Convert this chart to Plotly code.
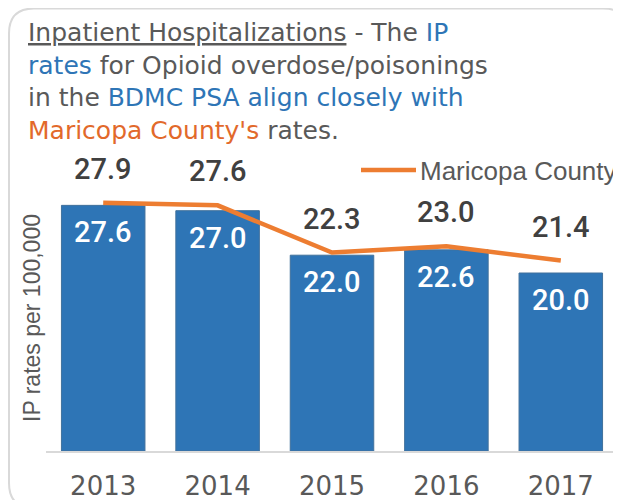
import plotly.graph_objects as go

years = ["2013", "2014", "2015", "2016", "2017"]
bdmc_psa = [27.6, 27.0, 22.0, 22.6, 20.0]
maricopa = [27.9, 27.6, 22.3, 23.0, 21.4]
y_title = "IP rates per 100,000"
legend_name = "Maricopa County"

# page body has an 8px default margin: work in window pixels, offset by OFF
OFF = 8
W, H = 621 - OFF, 500 - OFF
ML, MR, MT, MB = 38, 3, 176, 49
PW, PH = W - ML - MR, H - MT - MB

def px(xw):
    return (xw - OFF - ML) / PW

def py(yw):
    return (H - MB - (yw - OFF)) / PH

BLUE = "#2E75B6"
ORANGE = "#ED7D31"
GREY = "#595959"
DARK = "#404040"
ARIAL = "Liberation Sans, Arial, sans-serif"
ROBOTO = "Roboto, Liberation Sans, Arial, sans-serif"
DEJAVU = "DejaVu Sans, sans-serif"

fig = go.Figure()
fig.add_trace(go.Bar(
    x=years, y=bdmc_psa, name="BDMC PSA",
    marker=dict(color=BLUE, line=dict(color="#41719C", width=1)),
    showlegend=False, hoverinfo="skip",
))
fig.add_trace(go.Scatter(
    x=years, y=maricopa, name=legend_name, mode="lines",
    line=dict(color=ORANGE, width=4.5),
    showlegend=False, hoverinfo="skip",
))

annotations = []
# category axis: annotation x given as category index
for i, v in enumerate(bdmc_psa):
    annotations.append(dict(
        x=i, y=v, xref="x", yref="y", text=f"{v:.1f}", showarrow=False,
        yshift=-27, yanchor="middle",
        font=dict(family=ROBOTO, size=29, weight=500, color="white"),
    ))
for i, v in enumerate(maricopa):
    annotations.append(dict(
        x=i, y=v, xref="x", yref="y", text=f"{v:.1f}", showarrow=False,
        yshift=34, yanchor="middle",
        font=dict(family=ROBOTO, size=29, weight=500, color=DARK),
    ))

title_txt = (
    "<u>Inpatient Hospitalizations</u> - The <span style='color:#2E75B6'>IP</span><br>"
    "<span style='color:#2E75B6'>rates</span> for Opioid overdose/poisonings<br>"
    "in the <span style='color:#2E75B6'>BDMC PSA align closely with</span><br>"
    "<span style='color:#E2692B'>Maricopa County's</span> rates."
)
annotations.append(dict(
    x=px(26), y=py(16), xref="paper", yref="paper", text=title_txt,
    showarrow=False, xanchor="left", yanchor="top", align="left",
    font=dict(family=DEJAVU, size=25, color=GREY),
))
annotations.append(dict(
    x=px(32), y=py(318), xref="paper", yref="paper", text=y_title,
    showarrow=False, textangle=-90, xanchor="center", yanchor="middle",
    font=dict(family=ARIAL, size=23, color=GREY),
))
annotations.append(dict(
    x=px(418), y=py(171), xref="paper", yref="paper", text=legend_name,
    showarrow=False, xanchor="left", yanchor="middle",
    font=dict(family=ARIAL, size=26, color=GREY),
))

# rounded frame (window pixels)
L, T, R, B, r = 9, 8.5, 628, 508, 25
path = (
    f"M{px(L)},{py(T + r)} "
    f"Q{px(L)},{py(T)} {px(L + r)},{py(T)} "
    f"L{px(R - r)},{py(T)} "
    f"Q{px(R)},{py(T)} {px(R)},{py(T + r)} "
    f"L{px(R)},{py(B - r)} "
    f"Q{px(R)},{py(B)} {px(R - r)},{py(B)} "
    f"L{px(L + r)},{py(B)} "
    f"Q{px(L)},{py(B)} {px(L)},{py(B - r)} Z"
)
shapes = [
    dict(type="path", path=path, xref="paper", yref="paper",
         line=dict(color="#D9D9D9", width=2), layer="below"),
    dict(type="line", xref="paper", yref="paper",
         x0=px(361), x1=px(416), y0=py(170), y1=py(170),
         line=dict(color=ORANGE, width=4.5)),
]

fig.update_layout(
    width=W, height=H,
    margin=dict(l=ML, r=MR, t=MT, b=MB, pad=0, autoexpand=False),
    paper_bgcolor="white", plot_bgcolor="white",
    bargap=0.27,
    showlegend=False,
    annotations=annotations,
    shapes=shapes,
    xaxis=dict(
        type="category", range=[-0.5, len(years) - 0.5], autorange=False,
        showline=True, linecolor="#D9D9D9", linewidth=1.5,
        ticks="", showgrid=False, zeroline=False, automargin=False,
        tickfont=dict(family=DEJAVU, size=26, color=GREY),
        ticklabelstandoff=11,
    ),
    yaxis=dict(
        range=[0, 30], autorange=False, showticklabels=False, showgrid=False,
        zeroline=False, showline=False, ticks="", automargin=False,
    ),
)

fig.write_html("out.html")
